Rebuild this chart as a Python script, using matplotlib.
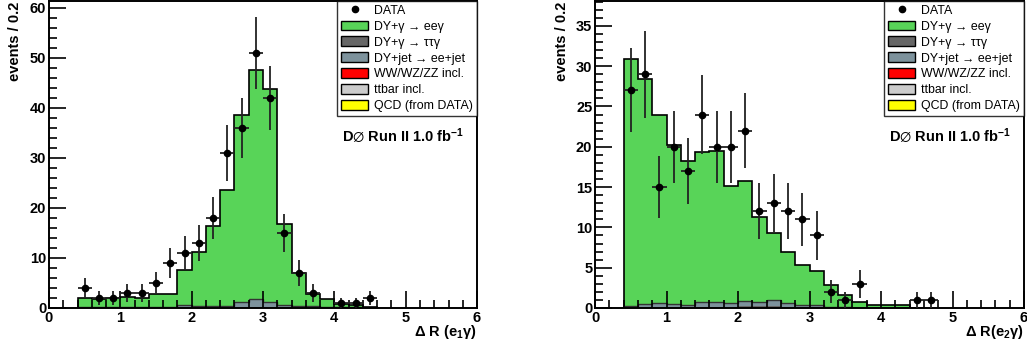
import numpy as np
import matplotlib.pyplot as plt
from matplotlib.patches import Patch
from matplotlib.lines import Line2D
from matplotlib.ticker import MultipleLocator

plt.rcParams['font.family'] = ['Liberation Sans', 'DejaVu Sans']
plt.rcParams['mathtext.fontset'] = 'custom'
plt.rcParams['mathtext.rm'] = 'Liberation Sans'
plt.rcParams['mathtext.bf'] = 'Liberation Sans:bold'
plt.rcParams['mathtext.it'] = 'Liberation Sans:italic'

# binning 0.4 .. 4.6, width 0.2
edges = np.round(np.arange(0.4, 4.61, 0.2), 2)
centers = edges[:-1] + 0.1

# --- panel 1 : Delta R(e1, gamma)
data1 = [4, 2, 2, 3, 3, 5, 9, 11, 13, 18, 31, 36, 51, 42, 15, 7, 3, 0, 1, 1, 2]
tautau1 = [0.05, 0.05, 0.05, 0.05, 0.05, 0.05, 0.05, 0.1, 0.1, 0.1, 0.1, 0.15, 0.2,
           0.15, 0.1, 0.05, 0.05, 0.05, 0.0, 0.0, 0.0]
dyjet1 = [0.15, 0.15, 0.15, 0.15, 0.15, 0.15, 0.15, 0.4, 0.3, 0.3, 0.3, 1.05, 1.5,
          0.95, 0.5, 0.35, 0.25, 0.15, 0.1, 0.1, 0.0]
eeg1 = [1.8, 1.5, 1.7, 1.9, 1.8, 2.6, 2.5, 7.0, 10.8, 15.9, 23.2, 37.4, 45.8,
        42.7, 16.1, 6.6, 2.5, 1.5, 0.7, 0.5, 0.1]

# --- panel 2 : Delta R(e2, gamma)
data2 = [27, 29, 15, 20, 17, 24, 20, 20, 22, 12, 13, 12, 11, 9, 2, 1, 3, 0, 0, 0, 1]
data2_x4_7 = 1
tautau2 = [0.1, 0.15, 0.15, 0.15, 0.1, 0.15, 0.15, 0.15, 0.2, 0.2, 0.2, 0.15, 0.1,
           0.1, 0.05, 0.05, 0.0, 0.0, 0.0, 0.0, 0.0]
dyjet2 = [0.1, 0.3, 0.45, 0.35, 0.3, 0.6, 0.6, 0.45, 0.7, 0.6, 0.75, 0.45, 0.3,
          0.3, 0.1, 0.05, 0.05, 0.05, 0.05, 0.05, 0.0]
eeg2 = [30.7, 27.95, 23.4, 19.7, 17.8, 18.55, 18.75, 14.5, 14.9, 10.5, 8.35, 6.4,
        4.9, 4.2, 2.65, 1.5, 0.65, 0.35, 0.35, 0.35, 0.0]

labels = ['DY+\u03b3 \u2192 ee\u03b3', 'DY+\u03b3 \u2192 \u03c4\u03c4\u03b3',
          'DY+jet \u2192 ee+jet', 'WW/WZ/ZZ incl.', 'ttbar incl.', 'QCD (from DATA)']
colors = ['#58d458', '#666666', '#7d929c', '#ff0000', '#cccccc', '#ffff00']

fig = plt.figure(figsize=(10.27, 3.47), dpi=100)


def draw_panel(rect, data, extra_pts, tautau, dyjet, eeg, ymax, ymaj, ymin, xlab, ylab_x):
    ax = fig.add_axes(rect)
    # stack: tautau at bottom, DY+jet, then ee gamma on top
    stack = np.cumsum(np.vstack([tautau, dyjet, eeg]), axis=0)
    ax.stairs(stack[2], edges, fill=True, facecolor=colors[0], edgecolor='none')
    ax.stairs(stack[2], edges, color='black', lw=1.2)
    ax.stairs(stack[1], edges, fill=True, facecolor=colors[2], edgecolor='none')
    ax.stairs(stack[1], edges, color='#333333', lw=1.0)
    ax.stairs(stack[0], edges, fill=True, facecolor=colors[1], edgecolor='none')

    d = np.array(data, dtype=float)
    x = centers
    mask = d > 0
    xs = list(x[mask]) + [p[0] for p in extra_pts]
    ys = list(d[mask]) + [p[1] for p in extra_pts]
    ys = np.array(ys)
    ax.errorbar(xs, ys, yerr=np.sqrt(ys), xerr=0.1, fmt='o', color='black',
                ecolor='#222222', ms=4.5, elinewidth=1.3, capsize=0, zorder=5)

    ax.set_xlim(0, 6)
    ax.set_ylim(0, ymax)
    ax.xaxis.set_major_locator(MultipleLocator(1))
    ax.xaxis.set_minor_locator(MultipleLocator(0.2))
    ax.yaxis.set_major_locator(MultipleLocator(ymaj))
    ax.yaxis.set_minor_locator(MultipleLocator(ymin))
    ax.tick_params(which='both', direction='in', top=False, right=False, width=1.2)
    ax.tick_params(which='major', length=12, labelsize=10.5, pad=2)
    ax.tick_params(which='minor', length=6)
    for lab in ax.get_xticklabels() + ax.get_yticklabels():
        lab.set_fontweight('bold')
    for s in ax.spines.values():
        s.set_linewidth(1.4)

    ax.text(1.0, -0.05, xlab, transform=ax.transAxes, ha='right', va='top',
            fontsize=10.5, fontweight='bold')
    fig.text(ylab_x, 0.995, 'events / 0.2', rotation=90, ha='center', va='top',
             fontsize=10.5, fontweight='bold')
    ax.text(0.97, 0.56, r'D$\varnothing$ Run II 1.0 fb$^{\mathbf{-1}}$',
            transform=ax.transAxes, ha='right', va='center', fontsize=10.5,
            fontweight='bold')

    handles = [Line2D([], [], marker='o', ls='none', color='black', ms=4.5)]
    handles += [Patch(facecolor=c, edgecolor='black', lw=1.0) for c in colors]
    leg = ax.legend(handles, ['DATA'] + labels, loc='upper right',
                    bbox_to_anchor=(1.0, 1.0), borderaxespad=0, fontsize=8.9,
                    frameon=True, fancybox=False, edgecolor='black',
                    handlelength=2.2, handleheight=0.85, labelspacing=0.3,
                    borderpad=0.3, handletextpad=0.5)
    leg.get_frame().set_linewidth(1.0)
    return ax


draw_panel([0.0477, 0.1124, 0.4168, 0.885], data1, [], tautau1, dyjet1, eeg1,
           61.4, 10, 2, r'$\mathbf{\Delta}$ R (e$_{\mathbf{1}}\mathbf{\gamma}$)', 0.015)
draw_panel([0.5794, 0.1124, 0.4177, 0.885], data2, [(4.7, data2_x4_7)], tautau2,
           dyjet2, eeg2, 38.1, 5, 1,
           r'$\mathbf{\Delta}$ R(e$_{\mathbf{2}}\mathbf{\gamma}$)', 0.547)

fig.savefig('out.png', dpi=100)
